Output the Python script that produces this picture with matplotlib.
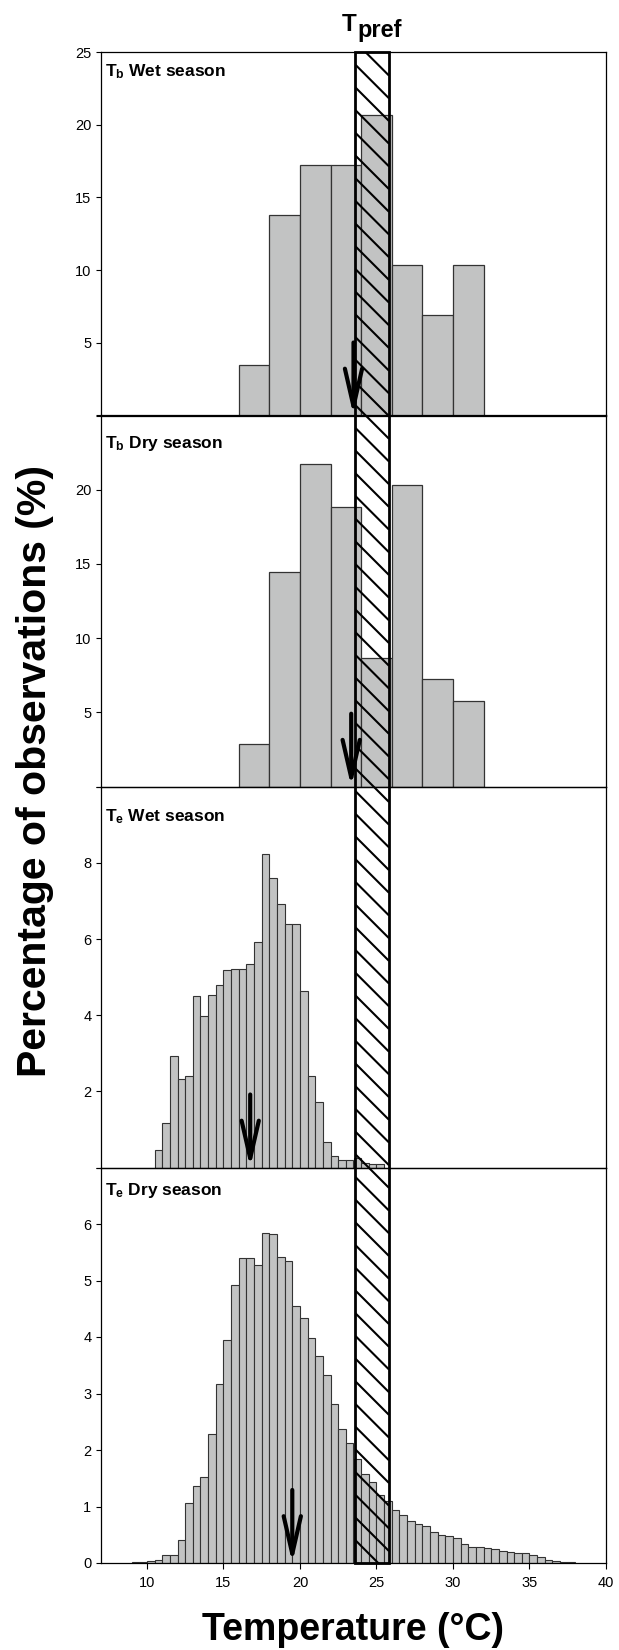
import matplotlib
matplotlib.use('Agg')
import matplotlib.pyplot as plt
import numpy as np
from matplotlib.patches import Rectangle

plt.rcParams['font.family'] = ['Liberation Sans', 'DejaVu Sans']
plt.rcParams['mathtext.fontset'] = 'custom'
plt.rcParams['mathtext.rm'] = 'Liberation Sans'
plt.rcParams['mathtext.bf'] = 'Liberation Sans:bold'
plt.rcParams['mathtext.it'] = 'Liberation Sans:italic'

# ---------------- data ----------------
tb_bin_start = 16.0
tb_bin_width = 2.0
tb_wet = [3.45, 13.79, 17.24, 17.24, 20.69, 10.34, 6.90, 10.34]
tb_dry = [2.90, 14.49, 21.74, 18.84, 8.70, 20.29, 7.25, 5.80]

te_bin_width = 0.5
te_wet_start = 10.5
te_wet = [0.46, 1.16, 2.94, 2.32, 2.41, 4.51, 3.98, 4.53, 4.78, 5.19,
          5.21, 5.21, 5.34, 5.92, 8.23, 7.59, 6.93, 6.40, 6.40, 4.64,
          2.41, 1.71, 0.66, 0.31, 0.21, 0.21, 0.25, 0.11, 0.09, 0.09]
te_dry_start = 9.0
te_dry = [0.01, 0.02, 0.03, 0.05, 0.14, 0.15, 0.40, 1.07, 1.37, 1.52,
          2.28, 3.16, 3.94, 4.92, 5.40, 5.40, 5.27, 5.84, 5.83, 5.41,
          5.35, 4.55, 4.33, 3.99, 3.67, 3.32, 2.82, 2.38, 2.12, 1.84,
          1.57, 1.43, 1.21, 1.10, 0.93, 0.85, 0.74, 0.69, 0.65, 0.54,
          0.50, 0.47, 0.45, 0.34, 0.29, 0.28, 0.27, 0.25, 0.22, 0.19,
          0.18, 0.18, 0.14, 0.11, 0.06, 0.04, 0.02, 0.01]

panel_titles = [("b", "Wet season"), ("b", "Dry season"),
                ("e", "Wet season"), ("e", "Dry season")]
mean_temps = [23.5, 23.35, 16.75, 19.5]
tpref_range = (23.63, 25.82)
y_max = [25, 25, 10, 7]
y_ticks = [[0, 5, 10, 15, 20, 25], [0, 5, 10, 15, 20, 25],
           [0, 2, 4, 6, 8, 10], [0, 1, 2, 3, 4, 5, 6, 7]]
y_ticklabels = [['', '5', '10', '15', '20', '25'],
                ['', '5', '10', '15', '20', ''],
                ['', '2', '4', '6', '8', ''],
                ['0', '1', '2', '3', '4', '5', '6', '']]
x_ticks = [10, 15, 20, 25, 30, 35, 40]

# ---------------- layout ----------------
FW, FH = 619, 1650
fig = plt.figure(figsize=(FW / 100, FH / 100), dpi=100)
ax_left_px, ax_right_px = 101, 606
panel_px = [(52, 415.5), (415.5, 786.7), (786.7, 1167.5), (1167.5, 1563)]
title_baseline_px = [76.0, 448.3, 821.7, 1195.0]

face = '#c2c3c3'
edge = '#333333'

series = [(tb_bin_start, tb_bin_width, tb_wet),
          (tb_bin_start, tb_bin_width, tb_dry),
          (te_wet_start, te_bin_width, te_wet),
          (te_dry_start, te_bin_width, te_dry)]

axes = []
for i, (top, bot) in enumerate(panel_px):
    ax = fig.add_axes([ax_left_px / FW, 1 - bot / FH,
                       (ax_right_px - ax_left_px) / FW, (bot - top) / FH])
    start, width, vals = series[i]
    lefts = start + width * np.arange(len(vals))
    ax.bar(lefts, vals, width=width, align='edge', color=face,
           edgecolor=edge, linewidth=0.9 if i < 2 else 0.8, zorder=2)
    ax.set_xlim(7, 40)
    ax.set_ylim(0, y_max[i])
    ax.set_yticks(y_ticks[i])
    ax.set_yticklabels(y_ticklabels[i])
    ax.tick_params(axis='y', direction='out', length=3.5, width=0.8,
                   pad=3.5, labelsize=10.5)
    if i < 3:
        ax.set_xticks([])
    else:
        ax.set_xticks(x_ticks)
        ax.tick_params(axis='x', direction='out', length=4.5, width=0.8,
                       pad=5, labelsize=10.5)
    for s in ax.spines.values():
        s.set_linewidth(0.9)
        s.set_color('black')
    ax.patch.set_alpha(0)

    # mean arrow (~73 px long)
    ax_h_px = bot - top
    alen = 73 / ax_h_px * y_max[i]
    ax.annotate('', xy=(mean_temps[i], 0), xytext=(mean_temps[i], alen),
                arrowprops=dict(arrowstyle='->,head_length=2.7,head_width=0.62',
                                lw=3.0, color='black', shrinkA=0, shrinkB=0,
                                mutation_scale=10), zorder=6)

    sub, rest = panel_titles[i]
    fig.text(105 / FW, 1 - title_baseline_px[i] / FH,
             r'$\mathbf{T}_{\mathbf{%s}}$ %s' % (sub, rest),
             fontsize=12.5, fontweight='bold', va='baseline', ha='left')
    axes.append(ax)

# ---------------- Tpref box across all panels ----------------
top_px, bot_px = panel_px[0][0], panel_px[-1][1]
axo = fig.add_axes([ax_left_px / FW, 1 - bot_px / FH,
                    (ax_right_px - ax_left_px) / FW, (bot_px - top_px) / FH],
                   zorder=10)
axo.set_xlim(7, 40)
axo.set_ylim(0, 1)
axo.axis('off')
axo.patch.set_alpha(0)
x0, x1 = tpref_range
rect = Rectangle((x0, 0), x1 - x0, 1, fill=False, edgecolor='black',
                 linewidth=2.0, zorder=12, clip_on=False)
axo.add_patch(rect)
clip_rect = Rectangle((x0, 0), x1 - x0, 1, fill=False, visible=False)
axo.add_patch(clip_rect)
sx = (ax_right_px - ax_left_px) / 33.0
sy = (bot_px - top_px)
drop = (x1 - x0) * sx / sy
spacing = 22.7 / sy
for y in np.arange(0, 1 + drop + spacing, spacing):
    ln, = axo.plot([x0, x1], [y, y - drop], color='black', lw=1.5,
                   solid_capstyle='butt', zorder=11)
    ln.set_clip_path(clip_rect)

# ---------------- labels ----------------
fig.text(341.5 / FW, 1 - 31 / FH, 'T', fontsize=17.5, fontweight='bold',
         ha='left', va='baseline')
fig.text(357 / FW, 1 - 36.5 / FH, 'pref', fontsize=17, fontweight='bold',
         ha='left', va='baseline')

fig.text(35 / FW, 1 - 771 / FH, 'Percentage of observations (%)',
         rotation=90, ha='center', va='center', fontsize=29.5, fontweight='bold')
fig.text(353 / FW, 10 / FH, 'Temperature (°C)', ha='center', va='baseline',
         fontsize=27, fontweight='bold')

fig.savefig('out.png', dpi=100)
